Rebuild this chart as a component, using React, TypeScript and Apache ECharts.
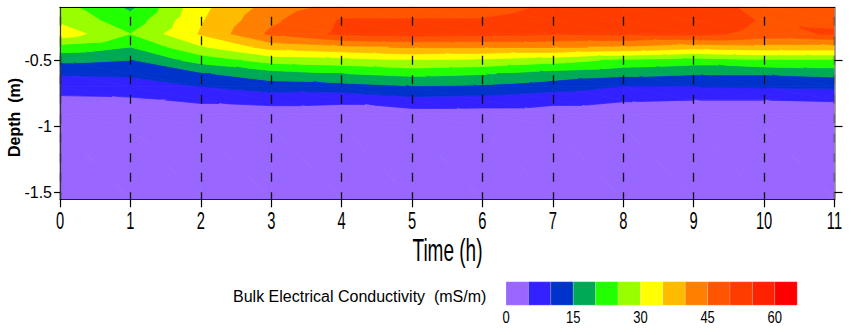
import React, { useEffect, useRef } from "react";
import * as echarts from "echarts";

// ---- data ----
const TIMES = [0, 1, 2, 3, 4, 5, 6, 7, 8, 9, 10, 11];
const DEPTHS = [-0.1, -0.2, -0.3, -0.4, -0.5, -0.6, -0.7, -0.8, -0.9, -1.0, -1.55];
// Bulk EC (mS/m) at each depth, one array per hour
const H0 = [27, 29, 33, 23, 16, 10.5, 7, 4, 2.5, 2, 1.5];
const H1 = [19, 22, 25, 20, 15, 11, 7.5, 4.3, 2.5, 2, 1.5];
const H2 = [33.5, 34.5, 35.5, 29.5, 22, 14.5, 10, 5.7, 3, 2, 1.5];
const H3 = [42, 44, 46, 37, 27, 18, 12.5, 6.5, 3, 2, 1.5];
const H4 = [47, 50.5, 51, 39, 28, 20, 13, 6, 3, 2, 1.5];
const H5 = [47, 50.5, 52, 40.5, 30, 21.5, 14.5, 8.5, 3, 2, 1.5];
const H6 = [47.5, 50.5, 51.5, 40.5, 29, 20.5, 14, 8, 3, 2, 1.5];
const H7 = [51, 53, 50.5, 40.5, 27, 18, 12.3, 6.4, 3, 2, 1.5];
const H8 = [52, 53, 51, 39.5, 24, 16.5, 9.8, 5.3, 3, 2, 1.5];
const H9 = [52.5, 53.5, 51.5, 37, 22.5, 15.5, 10, 5, 3, 2, 1.5];
const H10 = [48.5, 49.5, 48.5, 38, 24.5, 15.5, 10.5, 5, 3, 2, 1.5];
const H11 = [47, 49, 50.5, 38, 24.5, 16.5, 11, 5.3, 3, 2, 1.5];
const GRID_VALUES = [H0, H1, H2, H3, H4, H5, H6, H7, H8, H9, H10, H11];

const LEVELS = [0, 5, 10, 15, 20, 25, 30, 35, 40, 45, 50, 55, 60, 65];
const COLORS = [
  "#9966ff", "#3322ff", "#0033cc", "#00aa55", "#22ff00", "#99ff00", "#ffff00",
  "#ffbb00", "#ff8000", "#ff5500", "#ff3c00", "#ff2200", "#ff0000",
];
const LEGEND_TICKS = [0, 15, 30, 45, 60];
const X_TICKS = [0, 1, 2, 3, 4, 5, 6, 7, 8, 9, 10, 11];
const Y_TICKS = [-1.5, -1, -0.5];
const Y_MIN = -1.55;
const Y_MAX = -0.1;

const NARROW = '"Liberation Sans Narrow", "Arial Narrow", sans-serif';
const SANS = '"Liberation Sans", Arial, sans-serif';

type P = [number, number, number];

function buildTriangles(): P[][] {
  const tris: P[][] = [];
  for (let i = 0; i < TIMES.length - 1; i++) {
    for (let j = 0; j < DEPTHS.length - 1; j++) {
      const a: P = [TIMES[i], DEPTHS[j], GRID_VALUES[i][j]];
      const b: P = [TIMES[i + 1], DEPTHS[j], GRID_VALUES[i + 1][j]];
      const c: P = [TIMES[i + 1], DEPTHS[j + 1], GRID_VALUES[i + 1][j + 1]];
      const d: P = [TIMES[i], DEPTHS[j + 1], GRID_VALUES[i][j + 1]];
      tris.push([a, b, c]);
      tris.push([a, c, d]);
    }
  }
  return tris;
}

function clipPoly(pts: P[], f: (v: number) => number): P[] {
  const out: P[] = [];
  for (let i = 0; i < pts.length; i++) {
    const a = pts[i];
    const b = pts[(i + 1) % pts.length];
    const fa = f(a[2]);
    const fb = f(b[2]);
    if (fa >= 0) out.push(a);
    if (fa >= 0 !== fb >= 0) {
      const t = fa / (fa - fb);
      out.push([a[0] + t * (b[0] - a[0]), a[1] + t * (b[1] - a[1]), a[2] + t * (b[2] - a[2])]);
    }
  }
  return out;
}

export default function App() {
  const ref = useRef<HTMLDivElement>(null);
  useEffect(() => {
    if (!ref.current) return;
    const chart = echarts.init(ref.current, undefined, { renderer: "svg" });
    const tris = buildTriangles();
    const triData = tris.map((t) => [
      (t[0][0] + t[1][0] + t[2][0]) / 3,
      (t[0][1] + t[1][1] + t[2][1]) / 3,
    ]);

    const legX0 = 506;
    const legW = 22.4;
    const legY = 281.7;
    const legH = 23.5;
    const legendGraphics: any[] = [];
    COLORS.forEach((c, k) => {
      legendGraphics.push({
        type: "rect",
        shape: { x: legX0 + k * legW, y: legY, width: legW, height: legH },
        style: { fill: c, stroke: "rgba(255,255,255,0.35)", lineWidth: 0.5 },
      });
    });
    LEGEND_TICKS.forEach((v) => {
      const k = LEVELS.indexOf(v);
      legendGraphics.push({
        type: "text",
        x: legX0 + k * legW,
        y: 309.5,
        scaleY: 1.25,
        style: {
          text: String(v),
          fontFamily: NARROW,
          fontSize: 13,
          fill: "#000",
          align: "center",
          verticalAlign: "top",
        },
      });
    });

    chart.setOption({
      animation: false,
      grid: { left: 60, top: 7.3, width: 774.5, height: 192, containLabel: false },
      xAxis: [
        {
          type: "value",
          min: 0,
          max: 11,
          interval: 1,
          position: "bottom",
          z: 10,
          axisLine: { show: true, onZero: false, lineStyle: { color: "#222", width: 1.2 } },
          axisTick: { show: true, inside: false, length: 8, lineStyle: { color: "#000", width: 1.2 } },
          axisLabel: { show: false },
          splitLine: {
            show: true,
            lineStyle: { color: "#111", width: 1.3, type: [9, 10.5], dashOffset: 9.5 },
          },
        },
        {
          type: "value",
          min: 0,
          max: 11,
          position: "top",
          z: 10,
          axisLine: { show: true, onZero: false, lineStyle: { color: "#000", width: 1.2 } },
          axisTick: { show: false },
          axisLabel: { show: false },
          splitLine: { show: false },
        },
      ],
      yAxis: [
        {
          type: "value",
          min: Y_MIN,
          max: Y_MAX,
          position: "left",
          z: 10,
          axisLine: { show: true, onZero: false, lineStyle: { color: "#333", width: 1.2 } },
          axisTick: {
            show: true,
            length: 6,
            customValues: Y_TICKS,
            lineStyle: { color: "#000", width: 1.2 },
          },
          axisLabel: {
            show: true,
            customValues: Y_TICKS,
            margin: 8,
            fontFamily: NARROW,
            fontSize: 16,
            color: "#000",
            formatter: (v: number) => String(v),
          },
          splitLine: { show: false },
        },
        {
          type: "value",
          min: Y_MIN,
          max: Y_MAX,
          position: "right",
          z: 10,
          axisLine: { show: true, onZero: false, lineStyle: { color: "#888", width: 1.5 } },
          axisTick: {
            show: true,
            length: 8,
            customValues: Y_TICKS,
            lineStyle: { color: "#000", width: 1.2 },
          },
          axisLabel: { show: false },
          splitLine: { show: false },
        },
      ],
      series: [
        {
          type: "custom",
          name: "Bulk EC",
          coordinateSystem: "cartesian2d",
          xAxisIndex: 0,
          yAxisIndex: 0,
          silent: true,
          z: 2,
          encode: { x: 0, y: 1 },
          data: triData,
          renderItem: (params: any, api: any) => {
            const tri = tris[params.dataIndex];
            const children: any[] = [];
            for (let k = 0; k < COLORS.length; k++) {
              const lo = k === 0 ? -Infinity : LEVELS[k];
              const hi = k === COLORS.length - 1 ? Infinity : LEVELS[k + 1];
              let poly = clipPoly(tri, (v) => v - lo);
              if (poly.length < 3) continue;
              poly = clipPoly(poly, (v) => hi - v);
              if (poly.length < 3) continue;
              children.push({
                type: "polygon",
                shape: { points: poly.map((p) => api.coord([p[0], p[1]])) },
                style: { fill: COLORS[k], stroke: COLORS[k], lineWidth: 0.8 },
              });
            }
            return { type: "group", children };
          },
        },
        {
          type: "custom",
          name: "xLabels",
          coordinateSystem: "cartesian2d",
          xAxisIndex: 0,
          yAxisIndex: 0,
          silent: true,
          z: 12,
          encode: { x: 0, y: 1 },
          data: X_TICKS.map((v) => [v, Y_MIN]),
          renderItem: (params: any, api: any) => {
            const p = api.coord([api.value(0), api.value(1)]);
            return {
              type: "text",
              x: p[0],
              y: p[1] + 9,
              scaleY: 1.65,
              style: {
                text: String(api.value(0)),
                fontFamily: NARROW,
                fontSize: 14.7,
                fill: "#000",
                align: "center",
                verticalAlign: "top",
              },
            };
          },
        },
      ],
      graphic: [
        {
          type: "text",
          x: 447.5,
          y: 234,
          scaleY: 1.67,
          style: {
            text: "Time (h)",
            fontFamily: NARROW,
            fontSize: 19,
            fill: "#000",
            align: "center",
            verticalAlign: "top",
          },
        },
        {
          type: "text",
          x: 14.5,
          y: 117.5,
          rotation: Math.PI / 2,
          style: {
            text: "Depth  (m)",
            fontFamily: SANS,
            fontSize: 16,
            fontWeight: "bold",
            fill: "#000",
            align: "center",
            verticalAlign: "middle",
          },
        },
        {
          type: "text",
          x: 233,
          y: 288,
          style: {
            text: "Bulk Electrical Conductivity  (mS/m)",
            fontFamily: SANS,
            fontSize: 16,
            fill: "#000",
            align: "left",
            verticalAlign: "top",
          },
        },
        ...legendGraphics,
      ],
    });
    return () => chart.dispose();
  }, []);
  return (
    <div
      ref={ref}
      style={{ position: "absolute", left: 0, top: 0, width: 851, height: 335 }}
    />
  );
}
